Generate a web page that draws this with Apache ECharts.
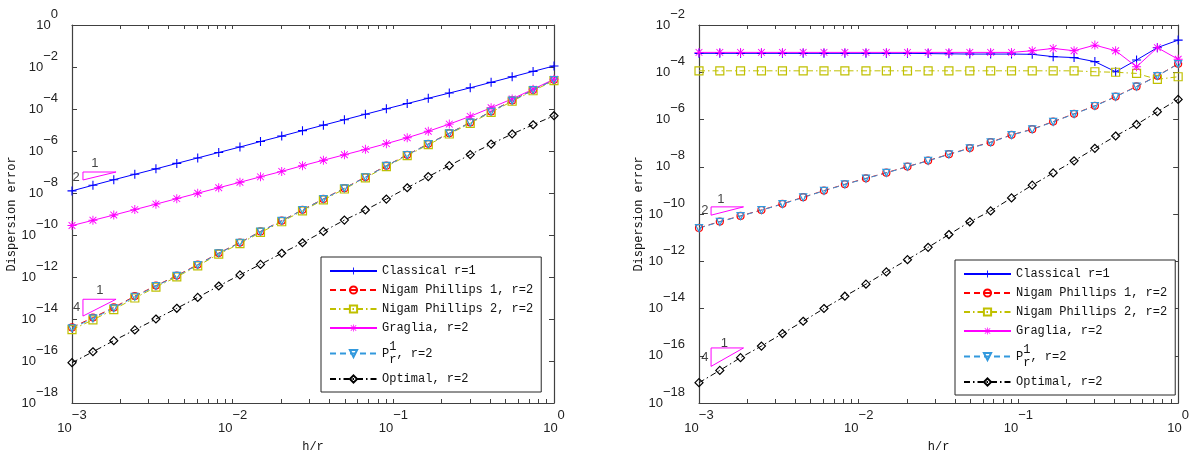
<!DOCTYPE html>
<html><head><meta charset="utf-8">
<script src="https://cdn.jsdelivr.net/npm/echarts@6/dist/echarts.min.js"></script>
<style>html,body{margin:0;padding:0;background:#fff;}#c{width:1192px;height:458px;}</style>
</head><body><div id="c"></div>
<script>
// h/r sample points (log-spaced)
const hr = [0.001, 0.00135, 0.00182, 0.00246, 0.00333, 0.00449, 0.00606, 0.00819, 0.0111, 0.0149, 0.0202, 0.0272, 0.0367, 0.0496, 0.067, 0.0905, 0.122, 0.165, 0.223, 0.301, 0.406, 0.549, 0.741, 1];

// Left panel
const leftClassical = [1.26e-8, 2.34e-8, 4.27e-8, 7.76e-8, 1.41e-7, 2.57e-7, 4.68e-7, 8.51e-7, 1.55e-6, 2.82e-6, 5.13e-6, 9.33e-6, 1.70e-5, 3.09e-5, 5.62e-5, 1.02e-4, 1.82e-4, 3.24e-4, 5.75e-4, 1.02e-3, 1.86e-3, 3.39e-3, 6.17e-3, 1.12e-2];
const leftNP1 = [3.98e-15, 1.17e-14, 3.55e-14, 1.23e-13, 3.89e-13, 1.17e-12, 3.89e-12, 1.38e-11, 4.37e-11, 1.48e-10, 4.79e-10, 1.58e-9, 5.25e-9, 1.70e-8, 5.75e-8, 2.00e-7, 6.61e-7, 2.19e-6, 7.08e-6, 2.29e-5, 7.59e-5, 2.57e-4, 8.13e-4, 2.45e-3];
const leftNP2 = [3.09e-15, 9.12e-15, 2.82e-14, 1.00e-13, 3.31e-13, 1.02e-12, 3.39e-12, 1.23e-11, 3.89e-11, 1.32e-10, 4.27e-10, 1.41e-9, 4.68e-9, 1.55e-8, 5.25e-8, 1.82e-7, 6.03e-7, 2.00e-6, 6.46e-6, 2.09e-5, 6.92e-5, 2.34e-4, 7.41e-4, 2.24e-3];
const leftGraglia = [2.82e-10, 5.01e-10, 8.91e-10, 1.62e-9, 2.95e-9, 5.37e-9, 9.77e-9, 1.78e-8, 3.24e-8, 5.89e-8, 1.07e-7, 2.00e-7, 3.63e-7, 6.61e-7, 1.20e-6, 2.24e-6, 4.27e-6, 8.71e-6, 1.91e-5, 4.47e-5, 1.15e-4, 3.02e-4, 8.71e-4, 2.63e-3];
const leftPr1 = [3.63e-15, 1.07e-14, 3.24e-14, 1.15e-13, 3.72e-13, 1.12e-12, 3.72e-12, 1.35e-11, 4.27e-11, 1.45e-10, 4.68e-10, 1.55e-9, 5.13e-9, 1.66e-8, 5.62e-8, 1.95e-7, 6.46e-7, 2.14e-6, 6.92e-6, 2.24e-5, 7.41e-5, 2.51e-4, 7.94e-4, 2.40e-3];
const leftOptimal = [8.32e-17, 2.75e-16, 9.33e-16, 3.02e-15, 1.00e-14, 3.24e-14, 1.07e-13, 3.72e-13, 1.26e-12, 3.98e-12, 1.35e-11, 4.27e-11, 1.48e-10, 5.13e-10, 1.55e-9, 5.13e-9, 1.78e-8, 6.03e-8, 2.00e-7, 6.76e-7, 2.14e-6, 6.46e-6, 1.78e-5, 4.79e-5];

// Right panel
const rightClassical = [6.31e-4, 6.31e-4, 6.31e-4, 6.31e-4, 6.31e-4, 6.31e-4, 6.31e-4, 6.31e-4, 6.31e-4, 6.31e-4, 6.31e-4, 6.17e-4, 6.03e-4, 5.89e-4, 5.89e-4, 5.89e-4, 5.75e-4, 4.57e-4, 4.17e-4, 2.82e-4, 1.05e-4, 3.31e-4, 1.10e-3, 2.29e-3];
const rightNP1 = [2.58e-11, 4.79e-11, 8.32e-11, 1.48e-10, 2.69e-10, 5.13e-10, 9.77e-10, 1.82e-9, 3.24e-9, 5.62e-9, 1.02e-8, 1.82e-8, 3.39e-8, 6.17e-8, 1.10e-7, 2.24e-7, 3.89e-7, 8.13e-7, 1.74e-6, 3.80e-6, 9.33e-6, 2.51e-5, 7.08e-5, 2.29e-4];
const rightNP2 = [1.15e-4, 1.15e-4, 1.15e-4, 1.15e-4, 1.15e-4, 1.15e-4, 1.15e-4, 1.15e-4, 1.15e-4, 1.15e-4, 1.15e-4, 1.15e-4, 1.15e-4, 1.15e-4, 1.15e-4, 1.15e-4, 1.15e-4, 1.15e-4, 1.15e-4, 1.05e-4, 1.00e-4, 8.91e-5, 5.01e-5, 6.46e-5];
const rightGraglia = [6.92e-4, 6.92e-4, 6.92e-4, 6.92e-4, 6.92e-4, 6.92e-4, 6.92e-4, 6.92e-4, 6.92e-4, 6.92e-4, 6.92e-4, 6.92e-4, 6.92e-4, 6.92e-4, 6.92e-4, 6.92e-4, 8.13e-4, 1.02e-3, 8.13e-4, 1.41e-3, 8.13e-4, 1.70e-4, 1.10e-3, 3.55e-4];
const rightPr1 = [2.51e-11, 4.68e-11, 8.13e-11, 1.45e-10, 2.63e-10, 5.01e-10, 9.55e-10, 1.78e-9, 3.16e-9, 5.50e-9, 1.00e-8, 1.78e-8, 3.31e-8, 6.03e-8, 1.07e-7, 2.19e-7, 3.80e-7, 7.94e-7, 1.70e-6, 3.72e-6, 9.12e-6, 2.45e-5, 6.92e-5, 2.24e-4];
const rightOptimal = [7.24e-18, 2.40e-17, 8.32e-17, 2.57e-16, 8.71e-16, 2.88e-15, 1.00e-14, 3.31e-14, 1.07e-13, 3.55e-13, 1.17e-12, 3.89e-12, 1.35e-11, 4.68e-11, 1.35e-10, 4.79e-10, 1.66e-9, 5.50e-9, 1.78e-8, 6.03e-8, 2.00e-7, 6.17e-7, 2.14e-6, 7.08e-6];

// Slope triangles [x, y] vertices, data coords
const leftTri2 = [[0.00117, 4.17e-8], [0.00117, 1e-7], [0.00188, 1e-7], [0.00117, 4.17e-8]];
const leftTri4 = [[0.00117, 1.38e-14], [0.00117, 8.71e-14], [0.00188, 8.71e-14], [0.00117, 1.38e-14]];
const rightTri2 = [[0.00119, 8.91e-11], [0.00119, 2.00e-10], [0.0019, 2.00e-10], [0.00119, 8.91e-11]];
const rightTri4 = [[0.00119, 3.55e-17], [0.00119, 2.14e-16], [0.0019, 2.14e-16], [0.00119, 3.55e-17]];
const leftTriLabels = [[0.00139, 2.69e-7, '1'], [0.00106, 5.75e-8, '2'], [0.00149, 2.40e-13, '1'], [0.00107, 3.63e-14, '4']];
const rightTriLabels = [[0.00137, 4.27e-10, '1'], [0.00109, 1.35e-10, '2'], [0.00144, 3.47e-16, '1'], [0.00109, 8.71e-17, '4']];

// Tick values
const xMajor = [0.001, 0.01, 0.1, 1];
const xMinorAll = [0.001,0.002,0.003,0.004,0.005,0.006,0.007,0.008,0.009,0.01,0.02,0.03,0.04,0.05,0.06,0.07,0.08,0.09,0.1,0.2,0.3,0.4,0.5,0.6,0.7,0.8,0.9,1];
const yTicksLeft = [1e-18,1e-16,1e-14,1e-12,1e-10,1e-8,1e-6,1e-4,1e-2,1];
const yTicksRight = [1e-18,1e-16,1e-14,1e-12,1e-10,1e-8,1e-6,1e-4,1e-2];

const names = ['Classical r=1', 'Nigam Phillips 1, r=2', 'Nigam Phillips 2, r=2', 'Graglia, r=2', 'P_r^1, r=2', 'Optimal, r=2'];

const chart = echarts.init(document.getElementById('c'), null, {renderer: 'canvas'});
const FRAME = '#404040';
const MONO = 'Liberation Mono';
const SANS = 'Liberation Sans';

function expFmt(v) {
  const e = Math.round(Math.log10(v));
  return '{b|10}{e|' + (e === 0 ? '0' : '\u2212' + (-e)) + '}';
}
const richX = {b: {fontSize: 13, fontFamily: SANS, color: '#222'}, e: {fontSize: 13, fontFamily: SANS, color: '#222', padding: [0, 0, 26, 0]}};
const richY = {b: {fontSize: 13, fontFamily: SANS, color: '#222'}, e: {fontSize: 13, fontFamily: SANS, color: '#222', padding: [0, 0, 22, 0]}};

function xAxes(gi) {
  return [
    {type: 'log', gridIndex: gi, min: 0.001, max: 1, position: 'bottom',
     axisLine: {show: true, onZero: false, lineStyle: {color: FRAME, width: 1.2}},
     axisTick: {show: true, inside: true, length: 4, customValues: xMinorAll, lineStyle: {color: FRAME}},
     axisLabel: {show: true, customValues: xMajor, formatter: expFmt, rich: richX, margin: 6, verticalAlign: 'top'},
     splitLine: {show: false}, minorTick: {show: false},
     name: 'h/r', nameLocation: 'middle', nameGap: 38,
     nameTextStyle: {fontFamily: MONO, fontSize: 12, color: '#111'}},
    {type: 'log', gridIndex: gi, min: 0.001, max: 1, position: 'top',
     axisLine: {show: true, onZero: false, lineStyle: {color: FRAME, width: 1.2}},
     axisTick: {show: true, inside: true, length: 4, customValues: xMinorAll, lineStyle: {color: FRAME}},
     axisLabel: {show: false}, splitLine: {show: false}}
  ];
}
function yAxes(gi, ticks, minV, maxV) {
  return [
    {type: 'log', gridIndex: gi, min: minV, max: maxV, position: 'left',
     axisLine: {show: true, onZero: false, lineStyle: {color: FRAME, width: 1.2}},
     axisTick: {show: true, inside: true, length: 5, customValues: ticks, lineStyle: {color: FRAME}},
     axisLabel: {show: true, customValues: ticks, formatter: expFmt, rich: richY, margin: 14},
     splitLine: {show: false},
     name: 'Dispersion error', nameLocation: 'middle', nameGap: 45,
     nameTextStyle: {fontFamily: MONO, fontSize: 12, color: '#111'}},
    {type: 'log', gridIndex: gi, min: minV, max: maxV, position: 'right',
     axisLine: {show: true, onZero: false, lineStyle: {color: FRAME, width: 1.2}},
     axisTick: {show: true, inside: true, length: 5, customValues: ticks, lineStyle: {color: FRAME}},
     axisLabel: {show: false}, splitLine: {show: false}}
  ];
}

const PLUS = 'path://M4.4,0H5.6V4.4H10V5.6H5.6V10H4.4V5.6H0V4.4H4.4Z';
const STAR = 'path://M4.5,0H5.5V4.5H10V5.5H5.5V10H4.5V5.5H0V4.5H4.5Z M1.6,0.9L5,4.3L8.4,0.9L9.1,1.6L5.7,5L9.1,8.4L8.4,9.1L5,5.7L1.6,9.1L0.9,8.4L4.3,5L0.9,1.6Z';
const styles = [
  {color: '#0000ff', dash: 'solid', symbol: PLUS, size: 9, filled: true},
  {color: '#ff0000', dash: [6, 4], symbol: 'circle', size: 7, filled: false},
  {color: '#c0c000', dash: [6, 3, 1.5, 3], symbol: 'rect', size: 8, filled: false},
  {color: '#ff00ff', dash: 'solid', symbol: STAR, size: 9, filled: true},
  {color: '#3399dd', dash: [6, 4], symbol: 'triangle', size: 7, filled: false, rotate: 180},
  {color: '#000000', dash: [6, 3, 1.5, 3], symbol: 'diamond', size: 8, filled: false}
];

function mkSeries(i, vals, xi, yi) {
  const s = styles[i];
  return {
    type: 'line', name: names[i], xAxisIndex: xi, yAxisIndex: yi,
    data: hr.map((x, k) => [x, vals[k]]),
    symbol: s.symbol, symbolSize: s.size, symbolRotate: s.rotate || 0, showAllSymbol: true,
    lineStyle: {color: s.color, width: 1, type: s.dash},
    itemStyle: s.filled ? {color: s.color} : {color: 'rgba(255,255,255,0)', borderColor: s.color, borderWidth: 1.2},
    animation: false, silent: true
  };
}
function triSeries(pts, xi, yi) {
  return {type: 'line', xAxisIndex: xi, yAxisIndex: yi, data: pts, symbol: 'none',
    lineStyle: {color: '#ff00ff', width: 1}, animation: false, silent: true, z: 5};
}
function labelSeries(lbls, xi, yi) {
  return {type: 'scatter', xAxisIndex: xi, yAxisIndex: yi, symbolSize: 1, itemStyle: {color: 'rgba(0,0,0,0)'},
    data: lbls.map(l => ({value: [l[0], l[1]], label: {show: true, formatter: l[2], position: 'inside', fontSize: 13, fontFamily: SANS, color: '#111'}})),
    animation: false, silent: true, z: 6};
}

const leftData = [leftClassical, leftNP1, leftNP2, leftGraglia, leftPr1, leftOptimal];
const rightData = [rightClassical, rightNP1, rightNP2, rightGraglia, rightPr1, rightOptimal];

const series = [];
leftData.forEach((d, i) => series.push(mkSeries(i, d, 0, 0)));
rightData.forEach((d, i) => series.push(mkSeries(i, d, 2, 2)));
series.push(triSeries(leftTri2, 0, 0), triSeries(leftTri4, 0, 0), labelSeries(leftTriLabels, 0, 0));
series.push(triSeries(rightTri2, 2, 2), triSeries(rightTri4, 2, 2), labelSeries(rightTriLabels, 2, 2));

function legendCfg(left, top) {
  return {
    data: names, orient: 'vertical', left: left, top: top,
    backgroundColor: '#fff', borderColor: '#262626', borderWidth: 1, borderRadius: 0,
    padding: [8, 8, 7, 8], itemGap: 7, itemWidth: 47, itemHeight: 9, itemTextGap: 4,
    selectedMode: false, z: 10,
    formatter: function (n) { return n === 'P_r^1, r=2' ? '{p|P}{s|1}{r|r}{t|, r=2}' : n; },
    textStyle: {fontFamily: MONO, fontSize: 12, color: '#111',
      rich: {p: {fontFamily: MONO, fontSize: 12, color: '#111'},
             s: {fontFamily: MONO, fontSize: 12, color: '#111', width: 0.01, padding: [0, 0, 13, 0]},
             r: {fontFamily: MONO, fontSize: 12, color: '#111', padding: [13, 0, 0, 0]},
             t: {fontFamily: MONO, fontSize: 12, color: '#111'}}}
  };
}

chart.setOption({
  animation: false,
  backgroundColor: '#fff',
  grid: [{left: 72, top: 25, width: 482, height: 378}, {left: 699, top: 25, width: 482, height: 378}],
  xAxis: [...xAxes(0), ...xAxes(1)],
  yAxis: [...yAxes(0, yTicksLeft, 1e-18, 1), ...yAxes(1, yTicksRight, 1e-18, 1e-2)],
  legend: [legendCfg(321, 257), legendCfg(955, 260)],
  series: series
});
</script></body></html>
